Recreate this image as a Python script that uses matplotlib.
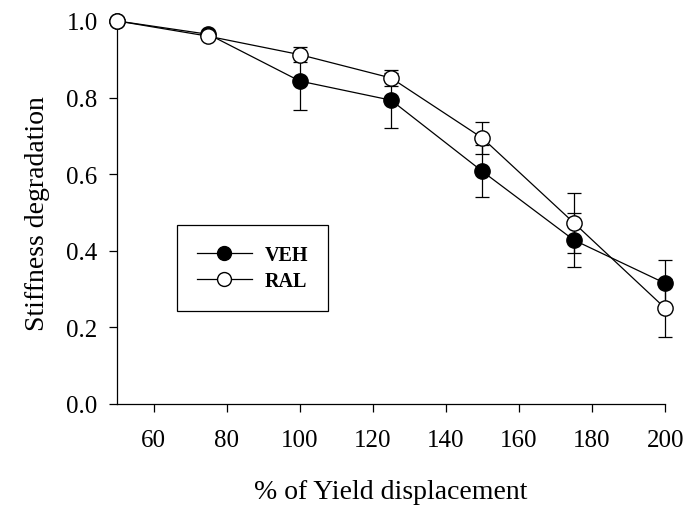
import matplotlib
matplotlib.use("Agg")
import matplotlib.pyplot as plt

x = [50, 75, 100, 125, 150, 175, 200]
veh = [1.0, 0.965, 0.843, 0.793, 0.607, 0.428, 0.315]
veh_err = [0.0, 0.008, 0.075, 0.072, 0.068, 0.071, 0.062]
ral = [1.0, 0.96, 0.912, 0.851, 0.694, 0.473, 0.250]
ral_err = [0.0, 0.008, 0.02, 0.02, 0.041, 0.078, 0.076]
xticks = [60, 80, 100, 120, 140, 160, 180, 200]
yticks = [0.0, 0.2, 0.4, 0.6, 0.8, 1.0]

plt.rcParams['font.family'] = ['Liberation Serif', 'DejaVu Serif']

fig = plt.figure(figsize=(6.85, 5.1), dpi=100)
ax = fig.add_axes([0.171, 0.206, 0.80, 0.751])

ax.errorbar(x, veh, yerr=veh_err, fmt='-o', color='black', mfc='black', mec='black',
            ms=11, lw=0.9, elinewidth=0.9, capsize=5, capthick=0.9, label='VEH',
            clip_on=False, zorder=3)
ax.errorbar(x, ral, yerr=ral_err, fmt='-o', color='black', mfc='white', mec='black',
            ms=11, lw=0.9, elinewidth=0.9, capsize=5, capthick=0.9, label='RAL',
            clip_on=False, zorder=4)

ax.set_xlim(50, 200)
ax.set_ylim(0, 1.0)
ax.set_xticks(xticks)
ax.set_yticks(yticks)
ax.set_yticklabels([f"{v:.1f}" for v in yticks])
ax.tick_params(direction='out', length=6, width=0.9, labelsize=18, pad=8)
ax.tick_params(axis='x', pad=12)
for s in ['top', 'right']:
    ax.spines[s].set_visible(False)
for s in ['left', 'bottom']:
    ax.spines[s].set_linewidth(0.9)

ax.set_xlabel('% of Yield displacement', fontsize=20, labelpad=20)
ax.set_ylabel('Stiffness degradation', fontsize=20, labelpad=12)

handles, labels = ax.get_legend_handles_labels()
handles = [h[0] for h in handles]
leg = ax.legend(handles, labels, loc='upper left', bbox_to_anchor=(0.1095, 0.467),
                borderaxespad=0, markerscale=10/11,
                frameon=True, fancybox=False, edgecolor='black', framealpha=1,
                prop={'weight': 'bold', 'size': 14.5}, handlelength=2.7,
                borderpad=1.0, labelspacing=0.3, handletextpad=0.65)
leg.get_frame().set_linewidth(0.9)

fig.savefig('out.png', dpi=100)
